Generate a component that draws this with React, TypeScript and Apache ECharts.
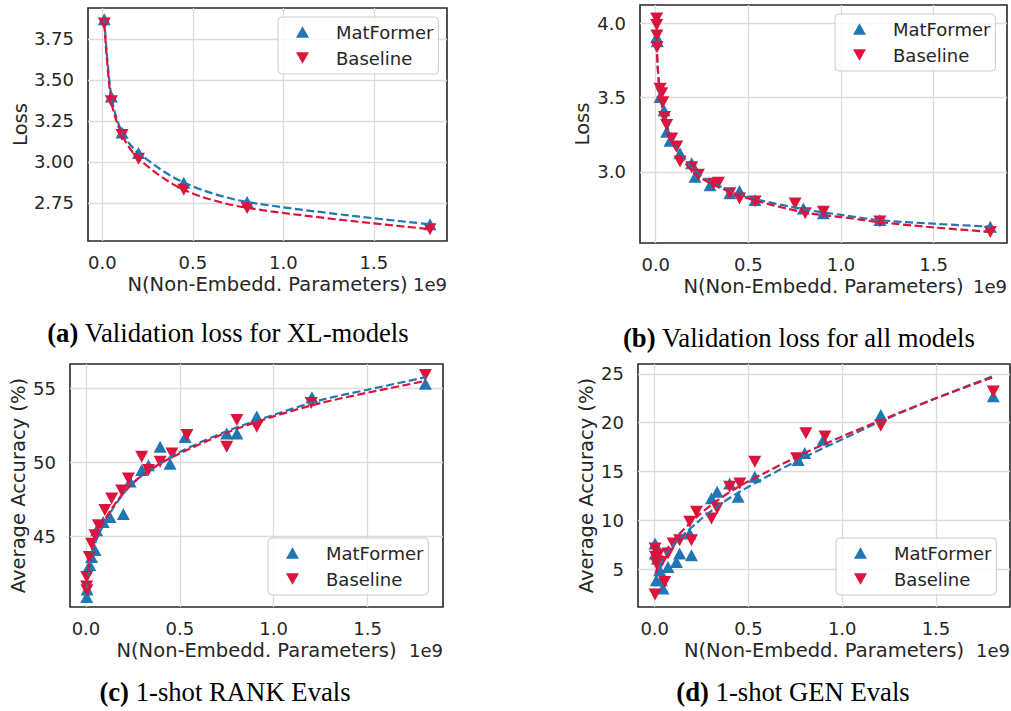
import React, { useEffect, useRef } from "react";
import * as echarts from "echarts";

// ---------- DATA ----------
const X_TICKS = [0, 0.5, 1.0, 1.5];

// (a) Validation loss for XL-models
const A_X = [0.011, 0.05, 0.109, 0.2, 0.45, 0.8, 1.81];
const A_MAT = [3.87, 3.4, 3.18, 3.055, 2.874, 2.756, 2.62];
const A_BASE = [3.845, 3.37, 3.165, 3.02, 2.83, 2.72, 2.59];
const A_Y_TICKS = [2.75, 3.0, 3.25, 3.5, 3.75];

// (b) Validation loss for all models
const B_MAT_X = [0.005, 0.008, 0.023, 0.045, 0.059, 0.077, 0.131, 0.194, 0.212, 0.293, 0.4, 0.452, 0.536, 0.797, 0.905, 1.21, 1.806];
const B_MAT_Y = [3.91, 3.88, 3.505, 3.416, 3.27, 3.21, 3.125, 3.057, 2.966, 2.91, 2.855, 2.87, 2.81, 2.753, 2.72, 2.675, 2.63];
const B_BASE_X = [0.005, 0.005, 0.006, 0.007, 0.023, 0.032, 0.038, 0.047, 0.059, 0.086, 0.113, 0.131, 0.194, 0.23, 0.311, 0.338, 0.4, 0.452, 0.536, 0.752, 0.807, 0.905, 1.21, 1.806];
const B_BASE_Y = [4.034, 3.99, 3.92, 3.84, 3.56, 3.53, 3.47, 3.37, 3.315, 3.225, 3.17, 3.07, 3.03, 2.98, 2.92, 2.926, 2.855, 2.82, 2.8, 2.787, 2.72, 2.73, 2.665, 2.595];
const B_FIT_X = [0.005, 0.01, 0.02, 0.035, 0.05, 0.1, 0.2, 0.3, 0.5, 0.8, 1.0, 1.2, 1.5, 1.81];
const B_FIT_MAT = [3.87, 3.72, 3.56, 3.44, 3.36, 3.18, 3.02, 2.93, 2.83, 2.747, 2.71, 2.675, 2.65, 2.63];
const B_FIT_BASE = [3.87, 3.72, 3.56, 3.44, 3.35, 3.17, 3.0, 2.92, 2.82, 2.727, 2.695, 2.662, 2.625, 2.595];
const B_Y_TICKS = [3.0, 3.5, 4.0];

// (c) 1-shot RANK Evals
const C_MAT_X = [0.004, 0.006, 0.02, 0.03, 0.048, 0.057, 0.092, 0.128, 0.199, 0.235, 0.297, 0.333, 0.395, 0.448, 0.528, 0.75, 0.804, 0.91, 1.204, 1.808];
const C_MAT_Y = [40.9, 41.4, 43.05, 43.6, 44.07, 45.4, 45.97, 46.3, 46.5, 48.7, 49.47, 49.8, 51.05, 49.9, 51.7, 51.95, 51.95, 53.1, 54.4, 55.3];
const C_BASE_X = [0.004, 0.004, 0.005, 0.018, 0.03, 0.048, 0.066, 0.101, 0.137, 0.19, 0.226, 0.297, 0.333, 0.395, 0.458, 0.538, 0.75, 0.804, 0.91, 1.2, 1.808];
const C_BASE_Y = [42.25, 41.6, 41.35, 43.6, 44.5, 45.07, 45.75, 46.77, 47.56, 48.1, 48.9, 50.37, 49.47, 50.03, 50.6, 51.84, 51.05, 52.86, 52.4, 54.0, 55.9];
const C_FIT_X = [0.004, 0.03, 0.075, 0.15, 0.25, 0.38, 0.5, 0.75, 1.0, 1.25, 1.5, 1.81];
const C_FIT_MAT = [41.5, 43.8, 45.3, 47.0, 48.6, 49.8, 50.7, 52.1, 53.2, 54.2, 54.9, 55.75];
const C_FIT_BASE = [41.8, 44.0, 45.5, 47.1, 48.6, 49.8, 50.6, 52.0, 53.1, 54.0, 54.7, 55.5];
const C_Y_TICKS = [45, 50, 55];

// (d) 1-shot GEN Evals
const D_MAT_X = [0.002, 0.003, 0.009, 0.015, 0.027, 0.036, 0.044, 0.071, 0.116, 0.133, 0.187, 0.196, 0.303, 0.333, 0.4, 0.445, 0.534, 0.765, 0.8, 0.899, 1.206, 1.806];
const D_MAT_Y = [7.66, 6.64, 3.9, 6.1, 4.93, 3.9, 3.05, 5.27, 5.78, 6.64, 8.69, 6.47, 12.27, 12.95, 13.8, 12.44, 14.49, 16.2, 16.9, 18.25, 20.8, 22.7];
const D_BASE_X = [0.002, 0.002, 0.004, 0.01, 0.02, 0.036, 0.053, 0.071, 0.098, 0.133, 0.187, 0.196, 0.223, 0.303, 0.333, 0.4, 0.454, 0.534, 0.757, 0.806, 0.908, 1.206, 1.806];
const D_BASE_Y = [2.45, 7.15, 6.3, 5.6, 6.5, 5.78, 3.73, 6.64, 7.66, 8.0, 9.88, 8.0, 10.9, 10.22, 11.25, 13.46, 13.8, 16.0, 16.37, 18.93, 18.6, 19.7, 23.2];
const D_FIT_X = [0.005, 0.03, 0.07, 0.12, 0.22, 0.33, 0.45, 0.6, 0.8, 1.0, 1.2, 1.5, 1.81];
const D_FIT_MAT = [4.3, 5.6, 6.8, 7.9, 9.7, 11.4, 12.9, 14.5, 16.5, 18.3, 20.1, 22.5, 24.8];
const D_FIT_BASE = [4.6, 6.0, 7.2, 8.4, 10.3, 12.0, 13.5, 15.0, 16.9, 18.6, 20.2, 22.5, 24.7];
const D_Y_TICKS = [5, 10, 15, 20, 25];

const X_NAME = "N(Non-Embedd. Parameters)";
const CAPTIONS = [
  ["(a)", " Validation loss for XL-models"],
  ["(b)", " Validation loss for all models"],
  ["(c)", " 1-shot RANK Evals"],
  ["(d)", " 1-shot GEN Evals"],
];

// ---------- STYLE ----------
const BLUE = "#1f77b4";
const RED = "#dc143c";
const INK = "#262626";
const FONT = "DejaVu Sans";
const SERIF = "Liberation Serif";
const UP = "path://M5,0L10,8.66L0,8.66Z";
const DOWN = "path://M0,0L10,0L5,8.66Z";
const MARK: [number, number] = [13, 12];

const zip = (xs: number[], ys: number[]) => xs.map((x, i) => [x, ys[i]]);

type Panel = {
  grid: { left: number; top: number; width: number; height: number };
  xMin: number; xMax: number; yMin: number; yMax: number;
  yTicks: number[]; yDigits: number; yName: string; yNameGap: number;
  mat: number[][]; base: number[][]; fitMat: number[][]; fitBase: number[][];
  legend: { left: number; top: number };
};

const PANELS: Panel[] = [
  {
    grid: { left: 88, top: 8, width: 359, height: 233 },
    xMin: -0.079, xMax: 1.904, yMin: 2.518, yMax: 3.939,
    yTicks: A_Y_TICKS, yDigits: 2, yName: "Loss", yNameGap: 58,
    mat: zip(A_X, A_MAT), base: zip(A_X, A_BASE), fitMat: zip(A_X, A_MAT), fitBase: zip(A_X, A_BASE),
    legend: { left: 278, top: 17 },
  },
  {
    grid: { left: 640, top: 5, width: 367, height: 238 },
    xMin: -0.085, xMax: 1.896, yMin: 2.52, yMax: 4.125,
    yTicks: B_Y_TICKS, yDigits: 1, yName: "Loss", yNameGap: 48,
    mat: zip(B_MAT_X, B_MAT_Y), base: zip(B_BASE_X, B_BASE_Y), fitMat: zip(B_FIT_X, B_FIT_MAT), fitBase: zip(B_FIT_X, B_FIT_BASE),
    legend: { left: 835, top: 14 },
  },
  {
    grid: { left: 70, top: 364, width: 373, height: 243 },
    xMin: -0.085, xMax: 1.902, yMin: 40.22, yMax: 56.64,
    yTicks: C_Y_TICKS, yDigits: 0, yName: "Average Accuracy (%)", yNameGap: 42,
    mat: zip(C_MAT_X, C_MAT_Y), base: zip(C_BASE_X, C_BASE_Y), fitMat: zip(C_FIT_X, C_FIT_MAT), fitBase: zip(C_FIT_X, C_FIT_BASE),
    legend: { left: 268, top: 538 },
  },
  {
    grid: { left: 638, top: 364, width: 372, height: 243 },
    xMin: -0.089, xMax: 1.895, yMin: 1.17, yMax: 26.0,
    yTicks: D_Y_TICKS, yDigits: 0, yName: "Average Accuracy (%)", yNameGap: 42,
    mat: zip(D_MAT_X, D_MAT_Y), base: zip(D_BASE_X, D_BASE_Y), fitMat: zip(D_FIT_X, D_FIT_MAT), fitBase: zip(D_FIT_X, D_FIT_BASE),
    legend: { left: 836, top: 538 },
  },
];

const CAPTION_POS = [
  [228, 333],
  [799, 338],
  [225, 692],
  [793, 692],
];

function buildOption() {
  const grid: any[] = [];
  const xAxis: any[] = [];
  const yAxis: any[] = [];
  const series: any[] = [];
  const legend: any[] = [];
  const graphic: any[] = [];

  PANELS.forEach((p, i) => {
    grid.push({
      ...p.grid,
      show: true,
      borderColor: INK,
      borderWidth: 1.6,
      backgroundColor: "transparent",
      containLabel: false,
    });
    xAxis.push({
      gridIndex: i,
      type: "value",
      min: p.xMin,
      max: p.xMax,
      axisLine: { show: false },
      axisTick: { show: false, customValues: X_TICKS },
      axisLabel: {
        customValues: X_TICKS,
        formatter: (v: number) => v.toFixed(1),
        margin: 12,
        color: INK,
        fontSize: 18,
        fontFamily: FONT,
      },
      splitLine: { show: true, lineStyle: { color: "#dcdcdc", width: 1.3 } },
      name: X_NAME,
      nameLocation: "middle",
      nameGap: 33,
      nameTextStyle: { color: INK, fontSize: 19.5, fontFamily: FONT },
    });
    yAxis.push({
      gridIndex: i,
      type: "value",
      min: p.yMin,
      max: p.yMax,
      axisLine: { show: false },
      axisTick: { show: false, customValues: p.yTicks },
      axisLabel: {
        customValues: p.yTicks,
        formatter: (v: number) => v.toFixed(p.yDigits),
        margin: 14,
        color: INK,
        fontSize: 18,
        fontFamily: FONT,
      },
      splitLine: { show: true, lineStyle: { color: "#dcdcdc", width: 1.3 } },
      name: p.yName,
      nameLocation: "middle",
      nameGap: p.yNameGap,
      nameTextStyle: { color: INK, fontSize: 19.5, fontFamily: FONT },
    });
    series.push(
      {
        name: "MatFormer",
        type: "scatter",
        xAxisIndex: i,
        yAxisIndex: i,
        data: p.mat,
        symbol: "triangle",
        symbolSize: MARK,
        itemStyle: { color: BLUE, opacity: 1 },
        z: 2,
      },
      {
        name: "Baseline",
        type: "scatter",
        xAxisIndex: i,
        yAxisIndex: i,
        data: p.base,
        symbol: "triangle",
        symbolRotate: 180,
        symbolSize: MARK,
        itemStyle: { color: RED, opacity: 1 },
        z: 3,
      },
      {
        name: "MatFormer fit",
        type: "line",
        xAxisIndex: i,
        yAxisIndex: i,
        data: p.fitMat,
        showSymbol: false,
        smooth: 0.3,
        lineStyle: { color: BLUE, width: 2.2, type: [8, 3.5] },
        z: 4,
      },
      {
        name: "Baseline fit",
        type: "line",
        xAxisIndex: i,
        yAxisIndex: i,
        data: p.fitBase,
        showSymbol: false,
        smooth: 0.3,
        lineStyle: { color: RED, width: 2.2, type: [8, 3.5] },
        z: 5,
      }
    );
    legend.push({
      left: p.legend.left,
      top: p.legend.top,
      orient: "vertical",
      selectedMode: false,
      data: [
        { name: "MatFormer", icon: UP },
        { name: "Baseline", icon: DOWN },
      ],
      itemWidth: 13,
      itemHeight: 12,
      itemGap: 6,
      padding: [5, 5, 6, 18],
      backgroundColor: "rgba(255,255,255,0.8)",
      borderColor: "#cccccc",
      borderWidth: 1,
      borderRadius: 4,
      textStyle: {
        color: INK,
        fontSize: 18,
        fontFamily: FONT,
        lineHeight: 20,
        padding: [0, 0, 0, 22],
      },
    });
    // offset text "1e9"
    graphic.push({
      type: "text",
      x: p.grid.left + p.grid.width,
      y: p.grid.top + p.grid.height + 43,
      style: {
        text: "1e9",
        fill: INK,
        fontSize: 18,
        fontFamily: FONT,
        align: "right",
        verticalAlign: "middle",
      },
    });
    const [cx, cy] = CAPTION_POS[i];
    graphic.push({
      type: "text",
      x: cx,
      y: cy,
      style: {
        text: `{b|${CAPTIONS[i][0]}}${CAPTIONS[i][1]}`,
        fill: "#000",
        fontSize: 26.7,
        fontFamily: SERIF,
        align: "center",
        verticalAlign: "middle",
        rich: {
          b: { fontWeight: "bold", fontSize: 26.7, fontFamily: SERIF, fill: "#000" },
        },
      },
    });
  });

  return {
    animation: false,
    backgroundColor: "#ffffff",
    grid,
    xAxis,
    yAxis,
    series,
    legend,
    graphic,
  };
}

export default function App() {
  const ref = useRef<HTMLDivElement>(null);
  useEffect(() => {
    if (!ref.current) return;
    const chart = echarts.init(ref.current, undefined, { renderer: "svg" });
    chart.setOption(buildOption() as any);
    return () => chart.dispose();
  }, []);
  return (
    <div
      ref={ref}
      style={{ position: "absolute", left: 0, top: 0, width: 1011, height: 711 }}
    />
  );
}
